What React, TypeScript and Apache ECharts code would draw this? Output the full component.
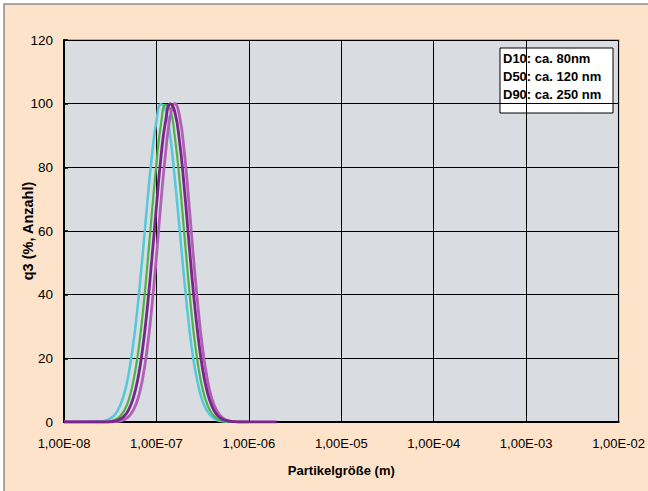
import React, { useEffect, useRef } from "react";
import * as echarts from "echarts";

// particle size in metres (shared sample positions)
const sizes = [
  2.51e-8, 2.82e-8, 3.16e-8, 3.55e-8, 3.98e-8, 4.47e-8, 5.01e-8, 5.62e-8, 6.31e-8, 7.08e-8,
  7.94e-8, 8.91e-8, 1.0e-7, 1.12e-7, 1.26e-7, 1.41e-7, 1.58e-7, 1.78e-7, 2.0e-7, 2.24e-7,
  2.51e-7, 2.82e-7, 3.16e-7, 3.55e-7, 3.98e-7, 4.47e-7, 5.01e-7, 5.62e-7, 6.31e-7, 7.08e-7,
  7.94e-7,
];
const cyanQ3 = [0.2, 0.5, 1.1, 2.3, 4.7, 8.7, 15.2, 24.6, 37.2, 52.3, 68.4, 83.3, 94.5, 99.8, 98.1, 89.7, 76.5, 60.7, 44.8, 30.8, 19.7, 11.8, 6.5, 3.4, 1.6, 0.7, 0.3, 0.1, 0, 0, 0];
const greenQ3 = [0, 0.1, 0.3, 0.7, 1.6, 3.5, 6.9, 12.7, 21.4, 33.6, 48.7, 65.4, 81.2, 93.5, 99.6, 98.2, 89.7, 75.8, 59.3, 43.0, 28.8, 17.9, 10.3, 5.5, 2.7, 1.2, 0.5, 0.2, 0.1, 0, 0];
const purpleQ3 = [0, 0, 0.1, 0.3, 0.8, 1.8, 3.9, 7.6, 13.7, 22.9, 35.5, 51.0, 67.7, 83.3, 94.8, 99.9, 97.4, 88.0, 73.6, 57.0, 40.8, 27.1, 16.6, 9.4, 5.0, 2.4, 1.1, 0.5, 0.2, 0.1, 0];
const magentaQ3 = [0, 0, 0, 0.1, 0.3, 0.7, 1.7, 3.7, 7.3, 13.5, 23.0, 36.0, 52.0, 69.3, 84.9, 96.0, 100, 96.0, 84.9, 69.3, 52.0, 36.0, 23.0, 13.5, 7.3, 3.7, 1.7, 0.7, 0.3, 0.1, 0];
const startSize = 1e-8;
const endSizes = { cyan: 9e-7, green: 1e-6, magenta: 1e-6, purple: 2e-6 };
const infoLines = ["D10: ca. 80nm", "D50: ca. 120 nm", "D90: ca. 250 nm"];
const yTitle = "q3 (%, Anzahl)";
const xTitle = "Partikelgröße (m)";
const yTicks = { min: 0, max: 120, interval: 20 };
const xRange = { min: 1e-8, max: 1e-2 };

const build = (vals: number[], end: number) => [
  [startSize, 0],
  ...sizes.map((s, i) => [s, vals[i]]),
  [end, 0],
];

const fmt = (v: number) => {
  const e = Math.round(Math.log10(v));
  return "1,00E" + (e < 0 ? "-" : "+") + String(Math.abs(e)).padStart(2, "0");
};

export default function App() {
  const ref = useRef<HTMLDivElement>(null);
  useEffect(() => {
    document.body.style.margin = "0";
    const chart = echarts.init(ref.current!, null, { renderer: "svg" });
    const font = "'Liberation Sans', Arial, sans-serif";
    const line = (name: string, data: any, color: string, width: number, extra: any = {}) => ({
      name,
      type: "line",
      data,
      smooth: true,
      symbol: "none",
      lineStyle: { color, width },
      itemStyle: { color },
      ...extra,
    });
    chart.setOption({
      animation: false,
      backgroundColor: "#ffffff",
      graphic: [
        {
          type: "rect",
          shape: { x: 4, y: 4, width: 700, height: 600 },
          style: { fill: "#FDE3C9", stroke: "#8c8c8c", lineWidth: 1.5 },
          z: -10,
        },
        {
          type: "text",
          x: 28,
          y: 231,
          rotation: Math.PI / 2,
          style: {
            text: yTitle,
            fill: "#000",
            font: `bold 14.5px ${font}`,
            align: "center",
            verticalAlign: "middle",
          },
        },
        {
          type: "group",
          z: 100,
          children: [
            {
              type: "rect",
              shape: { x: 500, y: 48, width: 113, height: 65 },
              style: { fill: "#ffffff", stroke: "#000000", lineWidth: 1 },
            },
            ...infoLines.map((t, i) => ({
              type: "text",
              x: 503,
              y: 52 + i * 18,
              style: {
                text: t,
                fill: "#000",
                font: `bold 13px ${font}`,
              },
            })),
          ],
        },
      ],
      grid: {
        left: 64,
        top: 40,
        width: 559,
        height: 382,
        show: true,
        backgroundColor: "#D9DCE0",
        borderColor: "#9a9a9a",
        borderWidth: 1.5,
      },
      xAxis: {
        type: "log",
        logBase: 10,
        min: xRange.min,
        max: xRange.max,
        name: xTitle,
        nameLocation: "middle",
        nameGap: 42,
        nameTextStyle: { fontFamily: font, fontWeight: "bold", fontSize: 13, color: "#000" },
        axisLine: { show: true, lineStyle: { color: "#000", width: 2 } },
        axisTick: { show: false },
        axisLabel: { formatter: fmt, fontFamily: font, fontSize: 13, color: "#000", margin: 15 },
        splitLine: { show: true, showMaxLine: false, lineStyle: { color: "#000", width: 1 } },
        minorTick: { show: false },
        minorSplitLine: { show: false },
      },
      yAxis: {
        type: "value",
        min: yTicks.min,
        max: yTicks.max,
        interval: yTicks.interval,
        axisLine: { show: true, lineStyle: { color: "#000", width: 2 } },
        axisTick: { show: true, inside: true, length: 4, lineStyle: { color: "#000", width: 1.5 } },
        axisLabel: { fontFamily: font, fontSize: 13.5, color: "#000", margin: 11 },
        splitLine: { show: true, lineStyle: { color: "#000", width: 1 } },
      },
      series: [
        line("cyan", build(cyanQ3, endSizes.cyan), "#55C8DA", 2.5),
        line("green", build(greenQ3, endSizes.green), "#4DB34B", 2.2),
        line("magenta", build(magentaQ3, endSizes.magenta), "#B25FB7", 2.8),
        line("purple", build(purpleQ3, endSizes.purple), "#7A2589", 2.8, {
          markLine: {
            silent: true,
            symbol: "none",
            label: { show: false },
            lineStyle: { color: "#000", width: 3, type: "solid" },
            data: [{ xAxis: 1e-7 }],
          },
        }),
      ],
    });
    return () => chart.dispose();
  }, []);
  return <div ref={ref} style={{ width: 648, height: 491 }} />;
}
